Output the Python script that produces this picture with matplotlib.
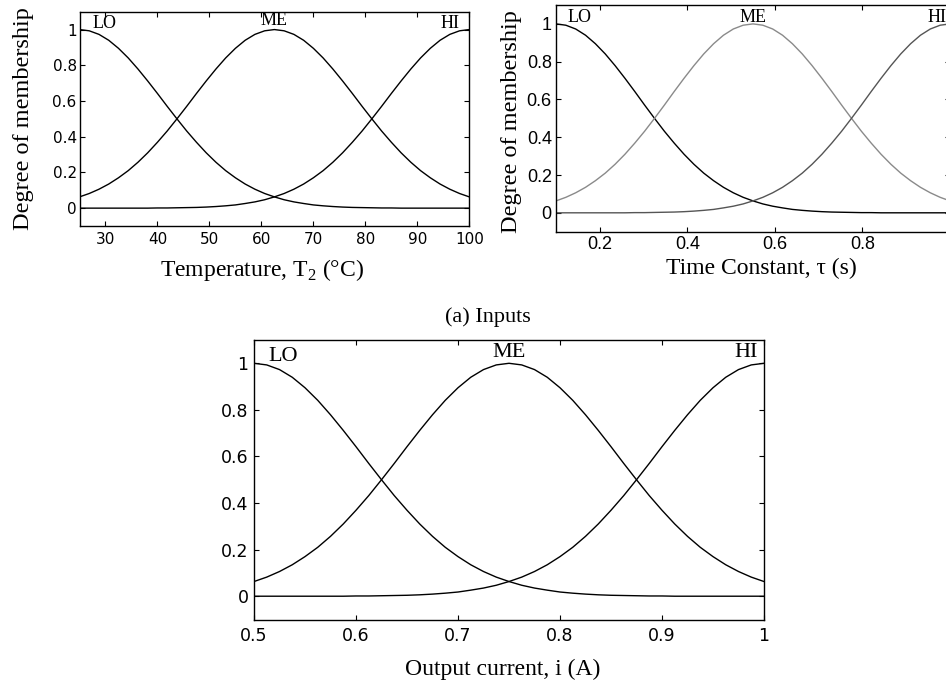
import matplotlib
matplotlib.use("Agg")
import matplotlib.pyplot as plt

# membership grades, 41 evenly spaced samples over each range
# (all three variables use the same LO / ME / HI set shapes)
lo_grade = [1.0, 0.993, 0.973, 0.94, 0.895, 0.841, 0.779, 0.712, 0.642, 0.57,
            0.5, 0.432, 0.369, 0.31, 0.257, 0.21, 0.17, 0.135, 0.106, 0.082,
            0.063, 0.047, 0.035, 0.026, 0.018, 0.013, 0.009, 0.006, 0.004, 0.003,
            0.002, 0.001, 0.001, 0.0, 0.0, 0.0, 0.0, 0.0, 0.0, 0.0, 0.0]
me_grade = [0.063, 0.082, 0.106, 0.135, 0.17, 0.21, 0.257, 0.31, 0.369, 0.432,
            0.5, 0.57, 0.642, 0.712, 0.779, 0.841, 0.895, 0.94, 0.973, 0.993,
            1.0, 0.993, 0.973, 0.94, 0.895, 0.841, 0.779, 0.712, 0.642, 0.57,
            0.5, 0.432, 0.369, 0.31, 0.257, 0.21, 0.17, 0.135, 0.106, 0.082, 0.063]
hi_grade = [0.0, 0.0, 0.0, 0.0, 0.0, 0.0, 0.0, 0.0, 0.001, 0.001,
            0.002, 0.003, 0.004, 0.006, 0.009, 0.013, 0.018, 0.026, 0.035, 0.047,
            0.063, 0.082, 0.106, 0.135, 0.17, 0.21, 0.257, 0.31, 0.369, 0.432,
            0.5, 0.57, 0.642, 0.712, 0.779, 0.841, 0.895, 0.94, 0.973, 0.993, 1.0]
set_names = ["LO", "ME", "HI"]

temp_x = [25, 26.875, 28.75, 30.625, 32.5, 34.375, 36.25, 38.125, 40, 41.875,
          43.75, 45.625, 47.5, 49.375, 51.25, 53.125, 55, 56.875, 58.75, 60.625,
          62.5, 64.375, 66.25, 68.125, 70, 71.875, 73.75, 75.625, 77.5, 79.375,
          81.25, 83.125, 85, 86.875, 88.75, 90.625, 92.5, 94.375, 96.25, 98.125, 100]
tau_x = [0.1, 0.1225, 0.145, 0.1675, 0.19, 0.2125, 0.235, 0.2575, 0.28, 0.3025,
         0.325, 0.3475, 0.37, 0.3925, 0.415, 0.4375, 0.46, 0.4825, 0.505, 0.5275,
         0.55, 0.5725, 0.595, 0.6175, 0.64, 0.6625, 0.685, 0.7075, 0.73, 0.7525,
         0.775, 0.7975, 0.82, 0.8425, 0.865, 0.8875, 0.91, 0.9325, 0.955, 0.9775, 1.0]
current_x = [0.5, 0.5125, 0.525, 0.5375, 0.55, 0.5625, 0.575, 0.5875, 0.6, 0.6125,
             0.625, 0.6375, 0.65, 0.6625, 0.675, 0.6875, 0.7, 0.7125, 0.725, 0.7375,
             0.75, 0.7625, 0.775, 0.7875, 0.8, 0.8125, 0.825, 0.8375, 0.85, 0.8625,
             0.875, 0.8875, 0.9, 0.9125, 0.925, 0.9375, 0.95, 0.9625, 0.975, 0.9875, 1.0]

temp_ticks = [30, 40, 50, 60, 70, 80, 90, 100]
tau_ticks = [0.2, 0.4, 0.6, 0.8]
current_ticks = [0.5, 0.6, 0.7, 0.8, 0.9, 1.0]
grade_ticks = [0, 0.2, 0.4, 0.6, 0.8, 1.0]

W, H = 946, 685
fig = plt.figure(figsize=(W / 100, H / 100), dpi=100)
SERIF = "Liberation Serif"


def px_box(l, t, r, b):
    return [l / W, 1 - b / H, (r - l) / W, (b - t) / H]


def fig_text(x, y, s, **kw):
    fig.text(x / W, 1 - y / H, s, ha="center", va="center", family=SERIF, **kw)


def mf_axes(box, xs, xticks, tickfont, ticksize, colors, label_pos, label_size, pads):
    ax = fig.add_axes(px_box(*box))
    for grade, c in zip([lo_grade, me_grade, hi_grade], colors):
        ax.plot(xs, grade, color=c, lw=1.0)
    ax.set_xlim(xs[0], xs[-1])
    ax.set_ylim(-0.1, 1.1)
    ax.set_xticks(xticks)
    ax.set_xticklabels(["%g" % t for t in xticks], family=tickfont, size=ticksize)
    ax.set_yticks(grade_ticks)
    ax.set_yticklabels(["%g" % t for t in grade_ticks], family=tickfont, size=ticksize)
    ax.tick_params(direction="in", top=True, right=True, length=3.5, width=0.8)
    ax.tick_params(axis="x", pad=pads[0])
    ax.tick_params(axis="y", pad=pads[1])
    for sp in ax.spines.values():
        sp.set_linewidth(1.0)
    for name, (x, y, ha) in zip(set_names, label_pos):
        ax.text(x, y, name, ha=ha, va="center", family=SERIF, size=label_size)
    return ax


# (a) inputs: temperature
mf_axes((79.5, 11.7, 469.3, 226), temp_x, temp_ticks, "DejaVu Sans", 11,
        ["black"] * 3,
        [(27.6, 1.035, "left"), (62.5, 1.053, "center"), (98.2, 1.035, "right")],
        13, (4, 2))
fig_text(23, 119, "Degree of membership", size=17.5, rotation=90)
fig_text(262, 270, r"Temperature, T$_\mathregular{2}$ (°C)", size=17)

# (a) inputs: time constant (right edge runs off the picture)
mf_axes((556, 5, 950, 231.7), tau_x, tau_ticks, "Liberation Sans", 13,
        ["black", "#8a8a8a", "#555555"],
        [(0.127, 1.036, "left"), (0.55, 1.036, "center"), (0.948, 1.036, "left")],
        13, (3, 3))
fig_text(511, 122, "Degree of membership", size=17.5, rotation=90)
fig_text(761, 268, "Time Constant, τ (s)", size=17)

fig_text(488, 317, "(a) Inputs", size=16)

# output current
mf_axes((254, 340, 764, 619.5), current_x, current_ticks, "DejaVu Sans", 12.5,
        ["black"] * 3,
        [(0.5137, 1.03, "left"), (0.75, 1.045, "center"), (0.994, 1.045, "right")],
        16, (5.5, 4))
fig_text(503, 669, "Output current, i (A)", size=17)

fig.savefig("out.png", dpi=100)
